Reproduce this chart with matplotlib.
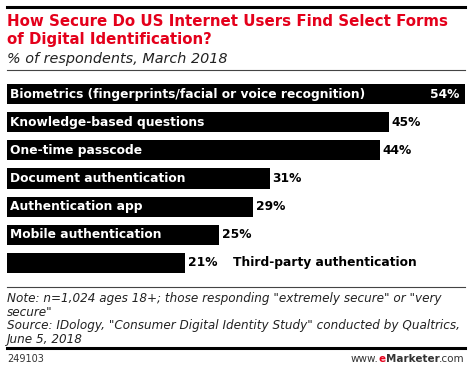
import matplotlib
matplotlib.use("Agg")
import matplotlib.pyplot as plt
from matplotlib.lines import Line2D

# chart data
categories = [
    "Biometrics (fingerprints/facial or voice recognition)",
    "Knowledge-based questions",
    "One-time passcode",
    "Document authentication",
    "Authentication app",
    "Mobile authentication",
    "Third-party authentication",
]
values = [54, 45, 44, 31, 29, 25, 21]

title_lines = ["How Secure Do US Internet Users Find Select Forms",
               "of Digital Identification?"]
subtitle = "% of respondents, March 2018"
note_lines = ['Note: n=1,024 ages 18+; those responding "extremely secure" or "very',
              'secure"',
              'Source: IDology, "Consumer Digital Identity Study" conducted by Qualtrics,',
              'June 5, 2018']
chart_id = "249103"

W, H = 470, 371
RED = "#e4001b"

plt.rcParams['font.family'] = ['DejaVu Sans']

fig = plt.figure(figsize=(W / 100, H / 100), dpi=100)
fig.patch.set_facecolor("white")


def fx(x):
    return x / W


def fy(y):
    return 1 - y / H


def hline(y, lw, color="black"):
    fig.add_artist(Line2D([fx(7), fx(465)], [fy(y), fy(y)], lw=lw, color=color,
                          transform=fig.transFigure))


# header
hline(7, 2.2)
fig.text(fx(7), fy(26), title_lines[0],
         color=RED, fontsize=10.8, fontweight="bold", va="baseline")
fig.text(fx(7), fy(44), title_lines[1],
         color=RED, fontsize=10.8, fontweight="bold", va="baseline")
fig.text(fx(7), fy(63), subtitle, fontsize=10.4, style="italic", va="baseline",
         color="#222222")
hline(70, 0.8, "#444444")

# bars
ax = fig.add_axes([fx(7), fy(277), fx(465) - fx(7), (277 - 80) / H])
ypos = list(range(len(values)))
ax.barh(ypos, values, height=0.72, color="black")
ax.set_xlim(0, max(values))
ax.set_ylim(len(values) - 0.5, -0.5)
ax.axis("off")

fs = 8.8
for i, (c, v) in enumerate(zip(categories, values)):
    if i == 0:
        ax.text(v - 0.7, i, f"{v}%", color="white", fontsize=fs, fontweight="bold",
                ha="right", va="center")
    else:
        ax.text(v + 0.3, i, f"{v}%", color="black", fontsize=fs, fontweight="bold",
                ha="left", va="center")
    if i == len(values) - 1:
        ax.text(v + 5.7, i, c, color="black", fontsize=fs, fontweight="bold",
                ha="left", va="center")
    else:
        ax.text(0.35, i, c, color="white", fontsize=fs, fontweight="bold",
                ha="left", va="center")

hline(287, 0.8, "#444444")

# footer
for k, line in enumerate(note_lines):
    fig.text(fx(7), fy(302 + 13.7 * k), line, fontsize=8.65, style="italic",
             va="baseline", color="#222222")
hline(348, 2.2)
fig.text(fx(7), fy(362), chart_id, fontsize=7, va="baseline", color="#333333")

# www.eMarketer.com, built right to left
fig.canvas.draw()
r = fig.canvas.get_renderer()
x_end = fx(465)
for part, weight, col in [(".com", "normal", "#333333"), ("Marketer", "bold", "#333333"),
                          ("e", "bold", RED), ("www.", "normal", "#333333")]:
    t = fig.text(x_end, fy(362), part, fontsize=7.5, fontweight=weight, va="baseline",
                 ha="right", color=col)
    bb = t.get_window_extent(r)
    x_end = bb.x0 / W

fig.savefig("out.png", dpi=100, facecolor="white")
